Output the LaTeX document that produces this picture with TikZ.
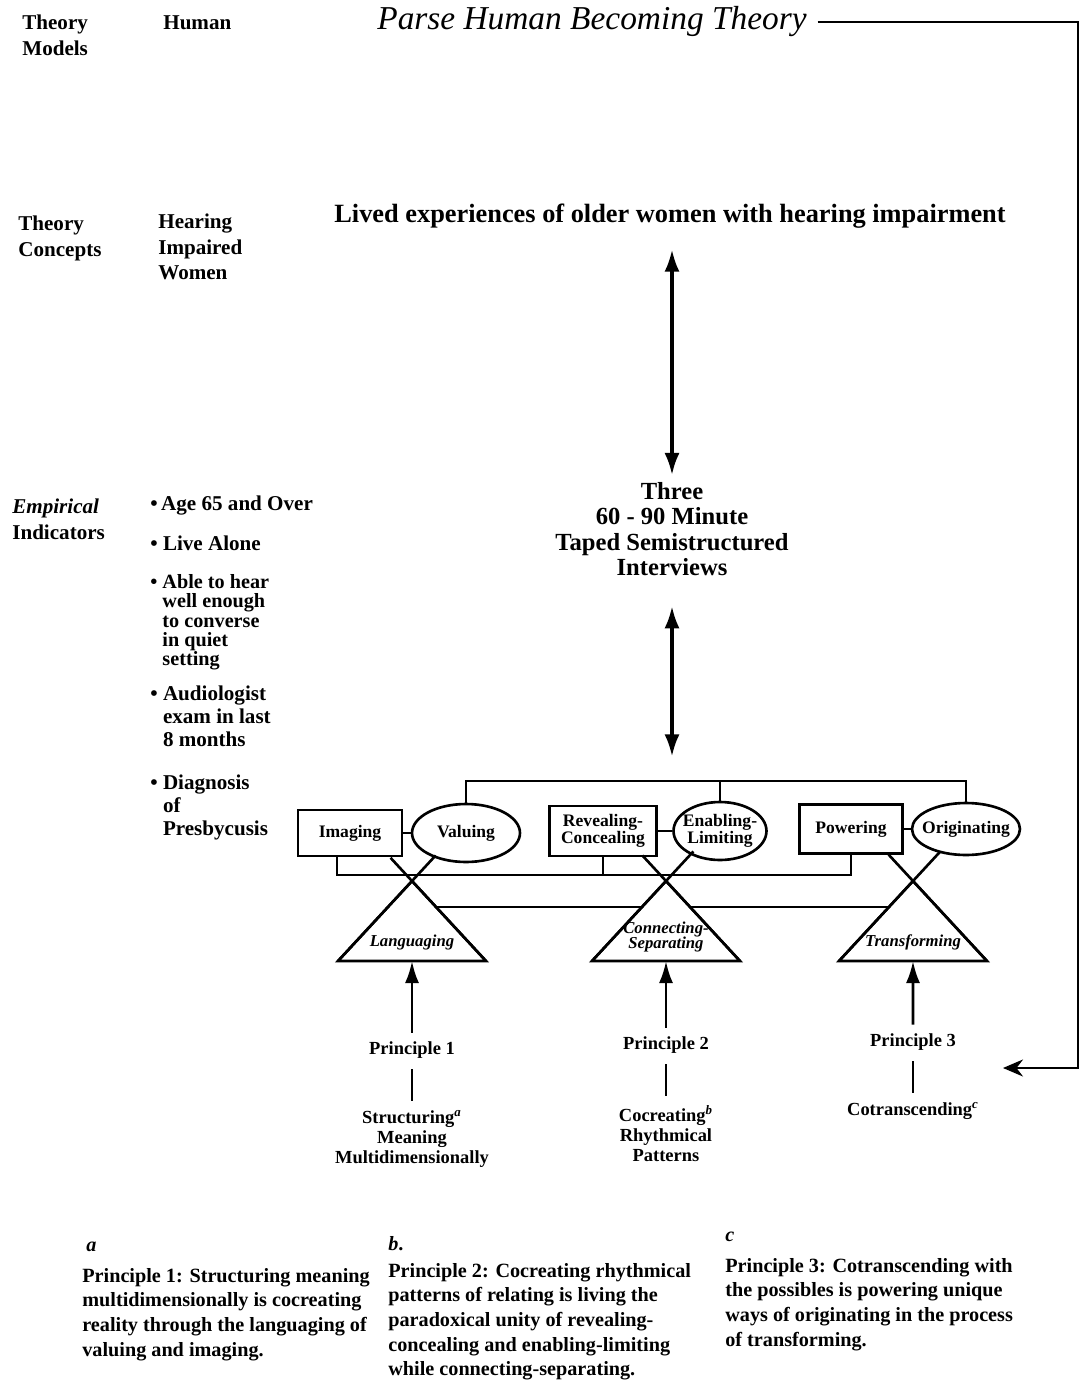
\documentclass[tikz,border=0pt]{standalone}
\usepackage{fontspec}
\setmainfont{Liberation Serif}
\usetikzlibrary{shapes.geometric,arrows.meta,calc}

\newcommand{\ind}{\hphantom{\textbullet\ }}

\tikzset{
  lbl/.style={font=\bfseries\fontsize{12}{14.5}\selectfont, align=left, anchor=north west, inner sep=0pt},
  head/.style={font=\itshape\fontsize{19}{22}\selectfont, inner sep=0pt},
  big/.style={font=\bfseries\fontsize{15}{15}\selectfont, align=center, inner sep=0pt},
  box/.style={draw, line width=1.5pt, font=\bfseries\fontsize{10}{9.5}\selectfont, align=center, inner sep=1pt},
  oval/.style={draw, ellipse, line width=1.5pt, font=\bfseries\fontsize{10}{9.5}\selectfont, align=center, inner ysep=0pt, inner xsep=-6pt},
  tri/.style={font=\bfseries\itshape\fontsize{9.5}{9}\selectfont, align=center, inner sep=0pt},
  prin/.style={font=\bfseries\fontsize{10.5}{11.5}\selectfont, align=center, inner sep=1pt},
  note/.style={font=\bfseries\fontsize{11.5}{14}\selectfont, align=left, anchor=north west, inner sep=0pt},
  wire/.style={line width=1.5pt},
  link/.style={wire, shorten <=5pt, shorten >=4pt},
  twohead/.style={line width=1.8pt, {Latex[length=4.4mm,width=3mm]}-{Latex[length=4.4mm,width=3mm]}},
  uparrow/.style={line width=1.6pt, -{Latex[length=4.4mm,width=2.8mm]}, shorten <=4pt},
  fbarrow/.style={line width=1.3pt, -{Stealth[length=4mm,width=3.4mm]}, shorten <=6pt},
}

\begin{document}
\begin{tikzpicture}[x=0.02cm,y=-0.02cm]
\useasboundingbox (0,0) rectangle (1084,1393);

\node[lbl] (models) at (22,15) {Theory\\Models};
\node[lbl] (human) at (163,15) {Human};
\node[head] (title) at (592,22) {Parse Human Becoming Theory};

\node[lbl] (concepts) at (18,216) {Theory\\Concepts};
\node[lbl] (women) at (158,214) {Hearing\\Impaired\\Women};
\node[big] (lived) at (670,216) {Lived experiences of older women with hearing impairment};

\node[lbl] (indicators) at (12,499) {\textit{Empirical}\\Indicators};
\node[lbl] (age) at (150,496) {\textbullet\,Age 65 and Over};
\node[lbl] (alone) at (150,536) {\textbullet\ Live Alone};
\node[lbl, font=\bfseries\fontsize{11.5}{11}\selectfont] (hear) at (150,574) {\textbullet\ Able to hear\\\ind well enough\\\ind to converse\\\ind in quiet\\\ind setting};
\node[lbl, font=\bfseries\fontsize{12}{13}\selectfont] (exam) at (150,686) {\textbullet\ Audiologist\\\ind exam in last\\\ind 8 months};
\node[lbl, font=\bfseries\fontsize{12}{13}\selectfont] (diag) at (150,775) {\textbullet\ Diagnosis\\\ind of\\\ind Presbycusis};

\node[big, font=\bfseries\fontsize{14}{14.5}\selectfont, anchor=north] (three) at (672,482) {Three\\60 - 90 Minute\\Taped Semistructured\\Interviews};

\node[box, minimum width=2.08cm, minimum height=0.92cm] (imaging) at (350,833) {Imaging};
\node[oval, minimum width=2.16cm, minimum height=1.16cm] (valuing) at (466,833) {Valuing};
\node[box, minimum width=2.14cm, minimum height=1.0cm] (reveal) at (603,831) {Revealing-\\Concealing};
\node[oval, minimum width=1.86cm, minimum height=1.16cm, inner xsep=-8pt] (enabling) at (720,831) {Enabling-\\Limiting};
\node[box, minimum width=2.06cm, minimum height=0.98cm] (powering) at (851,829) {Powering};
\node[oval, minimum width=2.16cm, minimum height=1.04cm] (originating) at (966,829) {Originating};

\draw[wire] (imaging) -- (valuing);
\draw[wire] (reveal) -- (enabling);
\draw[wire] (powering) -- (originating);

\coordinate (topbar) at (672,781);
\draw[wire] (valuing.north) -- (valuing.north |- topbar) -- (originating.north |- topbar) -- (originating.north);
\draw[wire] (enabling.north) -- (enabling.north |- topbar);

\coordinate (botbar) at (600,875);
\coordinate (imgfoot) at ($(imaging.south)+(-13,0)$);
\draw[wire] (imgfoot) |- (powering.south |- botbar) -- (powering.south);
\draw[wire] (reveal.south) -- (reveal.south |- botbar);

\coordinate (langTop) at (412,881);
\draw[wire] (langTop) -- ++(-74,80) coordinate (langL) -- ++(148,0) coordinate (langR) -- cycle;
\draw[wire] (langL) -- ($(langL)!1.32!(langTop)$);
\draw[wire] (langR) -- ($(langR)!1.29!(langTop)$);
\node[tri] (lang) at (412,942) {Languaging};

\coordinate (connTop) at (666,881);
\draw[wire] (connTop) -- ++(-74,80) coordinate (connL) -- ++(148,0) coordinate (connR) -- cycle;
\draw[wire] (connL) -- ($(connL)!1.37!(connTop)$);
\draw[wire] (connR) -- ($(connR)!1.32!(connTop)$);
\node[tri] (conn) at (666,937) {Connecting-\\Separating};

\coordinate (transTop) at (913,881);
\draw[wire] (transTop) -- ++(-74,80) coordinate (transL) -- ++(148,0) coordinate (transR) -- cycle;
\draw[wire] (transL) -- ($(transL)!1.36!(transTop)$);
\draw[wire] (transR) -- ($(transR)!1.33!(transTop)$);
\node[tri] (trans) at (913,942) {Transforming};

\draw[wire] ($(langR)!0.675!(langTop)$) -- ($(connL)!0.675!(connTop)$);
\draw[wire] ($(connR)!0.675!(connTop)$) -- ($(transL)!0.675!(transTop)$);

\draw[twohead, shorten <=12pt, shorten >=4pt] (three.north |- lived.south) -- (three.north);
\draw[twohead, shorten <=17pt, shorten >=14pt] (three.south) -- (three.south |- topbar);

\node[prin] (p1) at (412,1050) {Principle 1};
\node[prin] (p2) at (666,1045) {Principle 2};
\node[prin] (p3) at (913,1042) {Principle 3};
\node[prin, anchor=north] (s1) at (412,1108) {Structuring\textsuperscript{\itshape a}\\Meaning\\Multidimensionally};
\node[prin, anchor=north] (s2) at (666,1103) {Cocreating\textsuperscript{\itshape b}\\Rhythmical\\Patterns};
\node[prin, anchor=north] (s3) at (913,1100) {Cotranscending\textsuperscript{\itshape c}};

\draw[uparrow] (p1) -- ($(langL)!0.5!(langR)$);
\draw[uparrow] (p2) -- ($(connL)!0.5!(connR)$);
\draw[uparrow] (p3) -- ($(transL)!0.5!(transR)$);
\draw[link] (p1) -- (s1);
\draw[link] (p2) -- (s2);
\draw[link] (p3) -- (s3);

\coordinate (fbcorner) at (1078,1068);
\coordinate (fbend) at (1003,1068);
\draw[fbarrow] (title.east) -| (fbcorner) -- (fbend);

\node[note] (marka) at (86,1242) {\textit{a}};
\node[note] (notea) at (82,1268) {Principle 1: Structuring meaning\\multidimensionally is cocreating\\reality through the languaging of\\valuing and imaging.};
\node[note] (markb) at (388,1236) {\textit{b}.};
\node[note] (noteb) at (388,1263) {Principle 2: Cocreating rhythmical\\patterns of relating is living the\\paradoxical unity of revealing-\\concealing and enabling-limiting\\while connecting-separating.};
\node[note] (markc) at (725,1232) {\textit{c}};
\node[note] (notec) at (725,1258) {Principle 3: Cotranscending with\\the possibles is powering unique\\ways of originating in the process\\of transforming.};
\end{tikzpicture}
\end{document}
